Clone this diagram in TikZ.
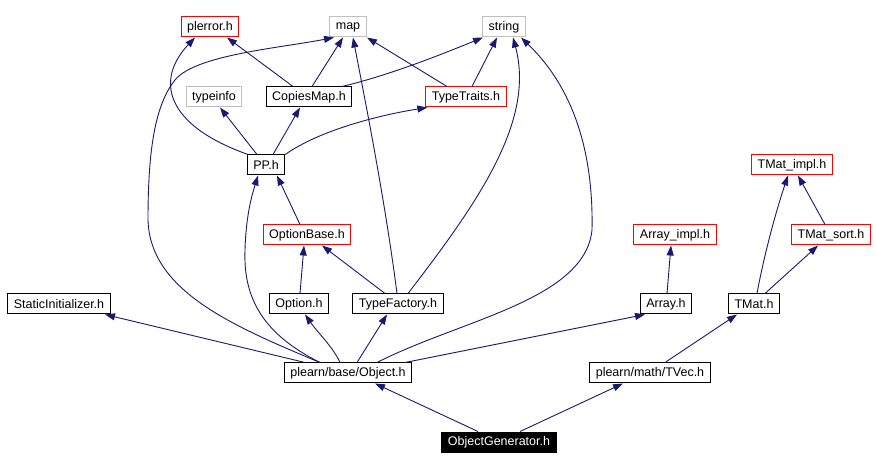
\documentclass[tikz,border=0pt]{standalone}
\usepackage{fontspec}
\setmainfont{Liberation Sans}
\usetikzlibrary{arrows.meta,positioning}
\definecolor{depblue}{RGB}{25,25,112}
\definecolor{sysgray}{RGB}{191,191,191}

\begin{document}
\begin{tikzpicture}[x=1pt,y=-1pt,
              file/.style={draw,line width=1pt,minimum height=20pt,inner xsep=6pt,
                  inner ysep=0pt,font=\fontsize{12.5}{14}\selectfont},
              sysfile/.style={file,draw=sysgray},
              redfile/.style={file,draw=red},
              dep/.style={-{Triangle[length=10pt,width=7pt]},depblue,line width=0.9pt}
            ]
            \useasboundingbox[fill=white] (0,0) rectangle (876,470);
            % top row
            \node[redfile] (plerror) at (210,27) {plerror.h};
            \node[sysfile] (map) at (348,27) {map};
            \node[sysfile] (string) at (504,27) {string};
            \node[sysfile] (typeinfo) at (214,97) {typeinfo};
            \node[file] (copies) at (309,97) {CopiesMap.h};
            \node[redfile] (traits) at (466,97) {TypeTraits.h};
            \node[file] (pp) at (266,165) {PP.h};
            \node[redfile] (optbase) at (307,235) {OptionBase.h};
            \node[file] (option) at (299,304) {Option.h};
            \node[file] (factory) at (398,304) {TypeFactory.h};
            \node[file] (static) at (59,304) {StaticInitializer.h};
            \node[redfile] (arrimpl) at (675,235) {Array\_impl.h};
            \node[file] (array) at (666,304) {Array.h};
            \node[redfile] (tmatimpl) at (792,165) {TMat\_impl.h};
            \node[redfile] (tmatsort) at (831,235) {TMat\_sort.h};
            \node[file] (tmat) at (754,304) {TMat.h};
            \node[file] (object) at (348,373) {plearn/base/Object.h};
            \node[file] (tvec) at (650,373) {plearn/math/TVec.h};
            \node[file,fill=black,text=white] (gen) at (499,442) {ObjectGenerator.h};
            % dependencies
            \draw[dep] ([xshift=-21pt]gen.north) -- ([xshift=27pt]object.south);
            \draw[dep] ([xshift=21pt]gen.north) -- ([xshift=-27pt]tvec.south);
            \draw[dep] ([xshift=-43pt]object.north) -- ([xshift=46pt]static.south);
            \draw[dep] ([xshift=-8pt]object.north) .. controls (333,347) and (318,333) .. ([xshift=6pt]option.south);
            \draw[dep] ([xshift=9pt]object.north) -- ([xshift=-11pt]factory.south);
            \draw[dep] ([xshift=57pt]object.north) -- ([xshift=-21pt]array.south);
            \draw[dep] ([xshift=-28pt]object.north) .. controls (265,335) and (243,300) .. (245,250)
              .. controls (246,215) and (252,195) .. ([xshift=-8pt]pp.south);
            \draw[dep] ([xshift=-28pt]object.north) .. controls (230,325) and (150,290) .. (148,220)
              .. controls (148,150) and (155,105) .. (175,80)
              .. controls (195,55) and (280,48) .. ([xshift=-14pt]map.south);
            \draw[dep] ([xshift=29pt]object.north) .. controls (460,320) and (585,300) .. (592,230)
              .. controls (594,130) and (560,75) .. ([xshift=17pt]string.south);
            \draw[dep] ([xshift=15pt]tvec.north) -- ([xshift=-17pt]tmat.south);
            \draw[dep] ([xshift=3pt]tmat.north) .. controls (765,250) and (778,205) .. ([xshift=-4pt]tmatimpl.south);
            \draw[dep] ([xshift=11pt]tmat.north) -- ([xshift=-13pt]tmatsort.south);
            \draw[dep] ([xshift=-6pt]tmatsort.north) -- ([xshift=6pt]tmatimpl.south);
            \draw[dep] ([xshift=1pt]array.north) -- ([xshift=-4pt]arrimpl.south);
            \draw[dep] ([xshift=1pt]option.north) -- ([xshift=-3pt]optbase.south);
            \draw[dep] ([xshift=-13pt]factory.north) -- ([xshift=15pt]optbase.south);
            \draw[dep] ([xshift=-1pt]factory.north) .. controls (385,200) and (365,100) .. ([xshift=5pt]map.south);
            \draw[dep] ([xshift=10pt]factory.north) .. controls (480,200) and (535,120) .. ([xshift=9pt]string.south);
            \draw[dep] ([xshift=-7pt]optbase.north) -- ([xshift=11pt]pp.south);
            \draw[dep] ([xshift=-9pt]pp.north) -- ([xshift=6pt]typeinfo.south);
            \draw[dep] ([xshift=7pt]pp.north) -- ([xshift=-9pt]copies.south);
            \draw[dep] (pp.north east) .. controls (320,130) and (380,115) .. ([xshift=2pt]traits.south west);
            \draw[dep] ([xshift=-18pt]pp.north) .. controls (165,125) and (155,80) .. ([xshift=-15pt]plerror.south);
            \draw[dep] ([xshift=-16pt]copies.north) -- ([xshift=17pt]plerror.south);
            \draw[dep] ([xshift=3pt]copies.north) -- ([xshift=-5pt]map.south);
            \draw[dep] ([xshift=33pt]copies.north) .. controls (390,75) and (440,55) .. ([xshift=-21pt]string.south);
            \draw[dep] ([xshift=-19pt]traits.north) -- ([xshift=19pt]map.south);
            \draw[dep] ([xshift=6pt]traits.north) -- ([xshift=-7pt]string.south);
          \end{tikzpicture}
\end{document}
